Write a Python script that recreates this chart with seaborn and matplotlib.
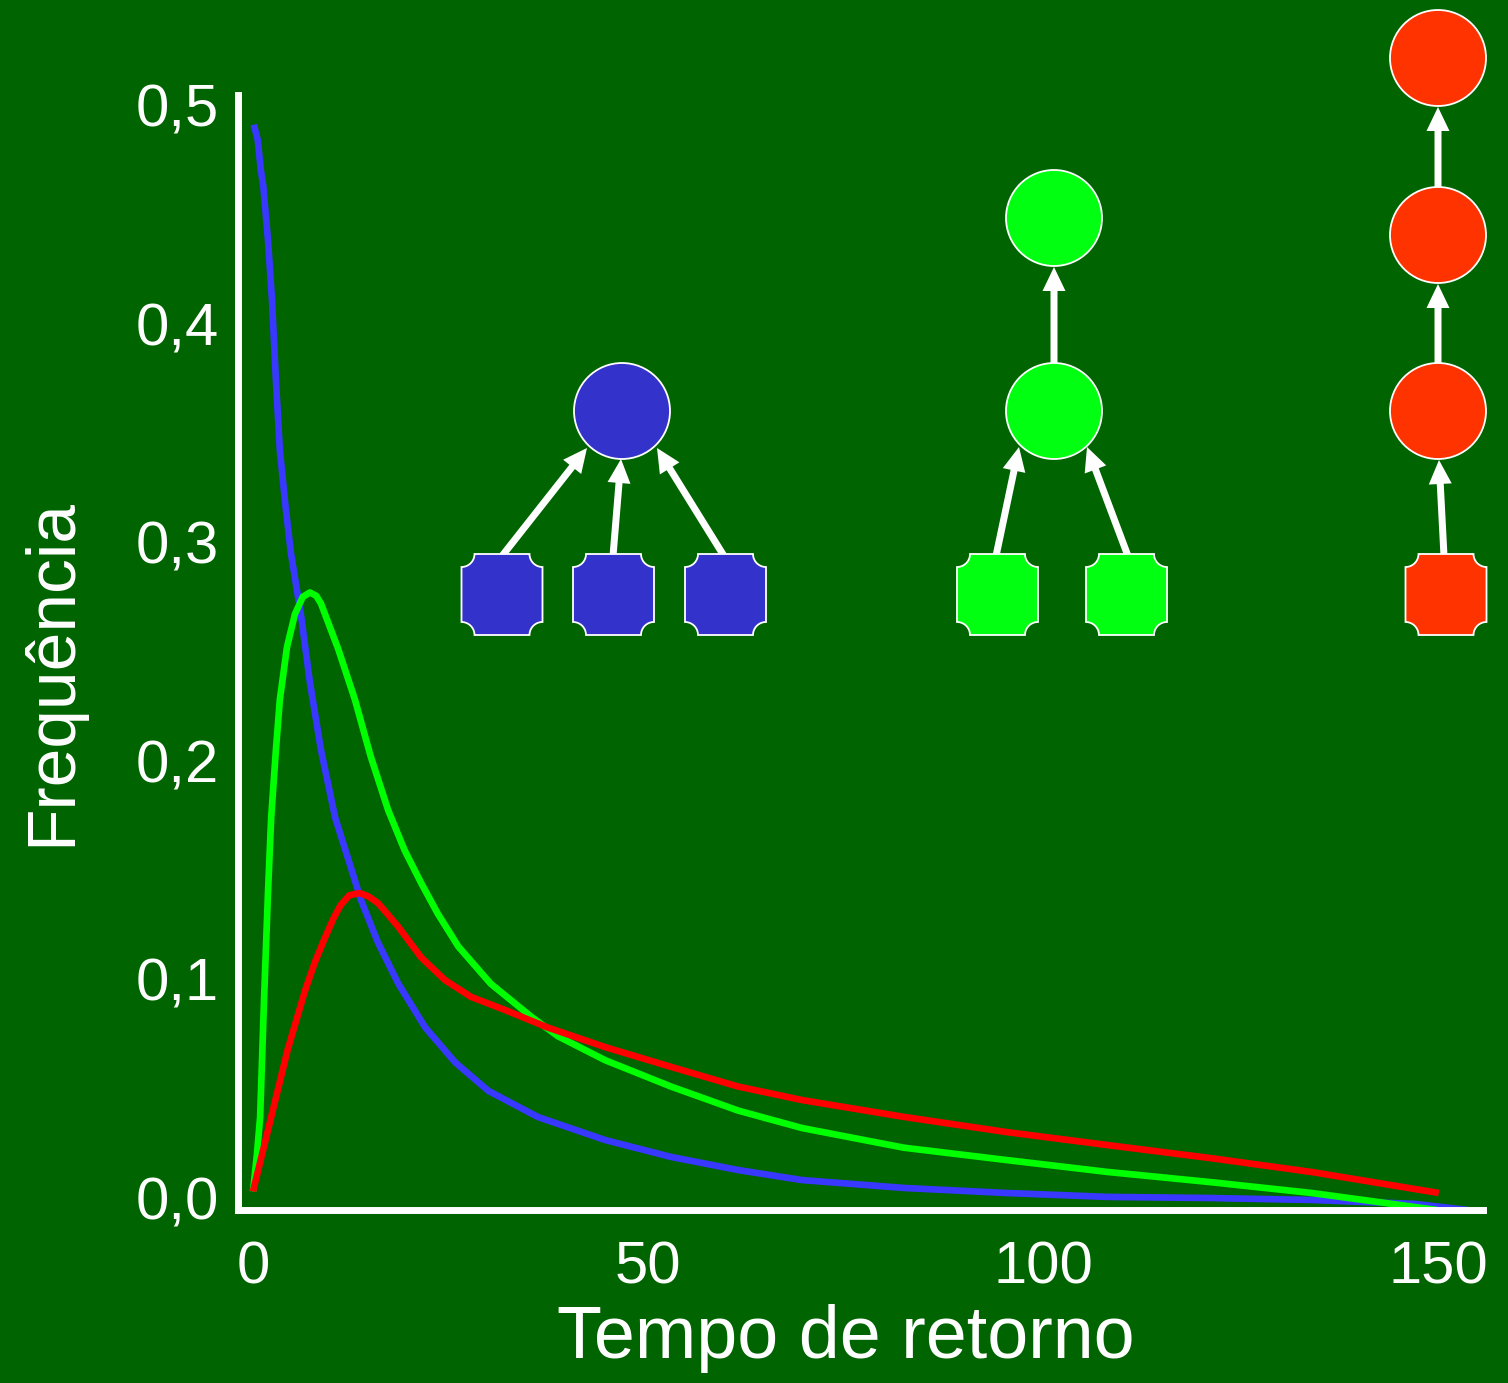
import numpy as np
import pandas as pd
import seaborn as sns
import matplotlib
matplotlib.use("Agg")
import matplotlib.pyplot as plt
from matplotlib.patches import Circle, Polygon, FancyArrow

# ---------------- data ----------------
blue_x = [0.1, 0.6, 1.0, 1.3, 1.9, 2.4, 2.9, 3.4, 4.1, 4.8, 6.1, 7.2, 8.6, 10.4, 12.4,
          13.7, 15.8, 18.4, 21.8, 25.6, 29.8, 36.1, 44.6, 52.9, 61.4, 69.5, 82.4, 95.3,
          108.2, 121.1, 134.0, 147.0, 153.8]
blue_y = [0.491, 0.484, 0.470, 0.463, 0.438, 0.411, 0.374, 0.342, 0.317, 0.295, 0.266,
          0.236, 0.205, 0.174, 0.151, 0.136, 0.117, 0.098, 0.078, 0.062, 0.049, 0.037,
          0.0265, 0.0188, 0.0128, 0.0082, 0.0046, 0.0023, 0.0005, 0.0, -0.0009,
          -0.0027, -0.0055]

green_x = [0.0, 0.5, 0.9, 1.15, 1.4, 1.9, 2.3, 2.9, 3.4, 4.3, 5.3, 6.3, 7.2, 8.0, 8.6,
           10.8, 12.9, 14.9, 17.1, 19.2, 21.3, 23.4, 26.0, 30.1, 35.2, 38.6, 44.6, 52.9,
           61.4, 69.5, 82.4, 95.3, 108.2, 121.1, 134.0, 149.9]
green_y = [0.003, 0.020, 0.037, 0.064, 0.091, 0.140, 0.174, 0.205, 0.228, 0.252, 0.267,
           0.275, 0.277, 0.2755, 0.272, 0.251, 0.228, 0.202, 0.1775, 0.159, 0.144, 0.130,
           0.115, 0.098, 0.083, 0.074, 0.063, 0.051, 0.040, 0.032, 0.023, 0.0174,
           0.0119, 0.0073, 0.0023, -0.0055]

red_x = [0.0, 2.3, 4.4, 6.6, 7.85, 9.1, 10.2, 11.1, 12.2, 13.5, 14.6, 15.8, 17.0, 18.4,
         21.3, 24.3, 27.6, 31.9, 37.3, 44.6, 52.9, 61.4, 69.5, 82.4, 95.3, 108.2, 121.1,
         134.0, 150.1]
red_y = [0.003, 0.037, 0.068, 0.095, 0.108, 0.119, 0.128, 0.134, 0.1385, 0.1395, 0.138,
         0.135, 0.130, 0.124, 0.110, 0.0997, 0.092, 0.086, 0.078, 0.069, 0.060, 0.051,
         0.0448, 0.0371, 0.0302, 0.0242, 0.0183, 0.0119, 0.0023]

x_ticks = [0, 50, 100, 150]
x_tick_labels = ["0", "50", "100", "150"]
y_ticks = [0.0, 0.1, 0.2, 0.3, 0.4, 0.5]
y_tick_labels = ["0,0", "0,1", "0,2", "0,3", "0,4", "0,5"]
x_label = "Tempo de retorno"
y_label = "Frequência"

# ---------------- style ----------------
BG = "#006400"
BLUE_LINE, GREEN_LINE, RED_LINE = "#3838ff", "#00ff00", "#ff0000"
BLUE_NODE, GREEN_NODE, RED_NODE = "#3333cc", "#00ff11", "#ff3300"

sns.set_theme(style="white")
plt.rcParams["font.family"] = ["Liberation Sans", "DejaVu Sans"]

W, H = 1508, 1383
fig = plt.figure(figsize=(W / 100, H / 100), dpi=100, facecolor=BG)
left_px, right_px, top_px, bot_px = 238.5, 1483, 95, 1210
ax = fig.add_axes([left_px / W, 1 - bot_px / H, (right_px - left_px) / W, (bot_px - top_px) / H])
ax.set_facecolor(BG)

df = pd.concat([
    pd.DataFrame({"t": blue_x, "f": blue_y, "s": "blue"}),
    pd.DataFrame({"t": green_x, "f": green_y, "s": "green"}),
    pd.DataFrame({"t": red_x, "f": red_y, "s": "red"}),
])
for name, col in [("blue", BLUE_LINE), ("green", GREEN_LINE), ("red", RED_LINE)]:
    sns.lineplot(data=df[df.s == name], x="t", y="f", sort=False, estimator=None,
                 color=col, linewidth=4.8, ax=ax, legend=False)
for ln in ax.lines:
    ln.set_linewidth(4.8)
    ln.set_solid_capstyle("butt")
    ln.set_solid_joinstyle("round")

ax.set_xlim((left_px - 253) / 7.9, (right_px - 253) / 7.9)
ax.set_ylim((1198 - bot_px) / 2186, (1198 - top_px) / 2186)
ax.set_xticks(x_ticks)
ax.set_xticklabels(x_tick_labels)
ax.set_yticks(y_ticks)
ax.set_yticklabels(y_tick_labels)
ax.tick_params(axis="both", length=0, labelsize=43, colors="white")
ax.tick_params(axis="y", pad=14)
ax.tick_params(axis="x", pad=22)
for s in ["top", "right"]:
    ax.spines[s].set_visible(False)
for s in ["left", "bottom"]:
    ax.spines[s].set_color("white")
    ax.spines[s].set_linewidth(5)

ax.set_xlabel(x_label, fontsize=53, color="white")
ax.set_ylabel(y_label, fontsize=50, color="white")
ax.xaxis.set_label_coords(0.488, -0.084)
ax.yaxis.set_label_coords(-0.124, 0.4825)

# ---------------- tree diagrams (pixel overlay) ----------------
ov = fig.add_axes([0, 0, 1, 1], zorder=5)
ov.set_xlim(0, W)
ov.set_ylim(H, 0)
ov.axis("off")
ov.patch.set_visible(False)

R = 48
EDGE = dict(edgecolor="white", linewidth=1.3)


def circle(cx, cy, col):
    ov.add_patch(Circle((cx, cy), R, facecolor=col, zorder=3, **EDGE))


def notched_square(cx, cy, col, half_w=40.5, half_h=40.5, r=13):
    x0, x1, y0, y1 = cx - half_w, cx + half_w, cy - half_h, cy + half_h
    t = np.linspace(0, np.pi / 2, 20)
    pts = []
    pts += list(zip(x0 + r * np.sin(t), y0 + r * np.cos(t)))
    pts += list(zip(x1 - r * np.cos(t), y0 + r * np.sin(t)))
    pts += list(zip(x1 - r * np.sin(t), y1 - r * np.cos(t)))
    pts += list(zip(x0 + r * np.cos(t), y1 - r * np.sin(t)))
    ov.add_patch(Polygon(pts, closed=True, facecolor=col, zorder=3, **EDGE))


def arrow(x0, y0, x1, y1):
    ov.add_patch(FancyArrow(x0, y0, x1 - x0, y1 - y0, width=7, head_width=23,
                            head_length=24, length_includes_head=True,
                            color="white", lw=0, zorder=2))


# blue tree
circle(622, 411, BLUE_NODE)
for cx in (502, 613.5, 725.5):
    notched_square(cx, 594.5, BLUE_NODE)
arrow(502, 556, 587, 448)
arrow(613, 556, 621, 459)
arrow(724, 556, 657, 448)

# green tree
circle(1054, 218, GREEN_NODE)
circle(1054, 411, GREEN_NODE)
for cx in (997.5, 1126.5):
    notched_square(cx, 594.5, GREEN_NODE)
arrow(1054, 364, 1054, 267)
arrow(996, 556, 1019, 447)
arrow(1128, 556, 1087, 447)

# red chain
for cy in (58, 235, 411):
    circle(1438, cy, RED_NODE)
notched_square(1446, 594.5, RED_NODE)
arrow(1438, 187, 1438, 107)
arrow(1438, 364, 1438, 284)
arrow(1444, 556, 1439, 460)

fig.savefig("out.png", dpi=100, facecolor=BG)
